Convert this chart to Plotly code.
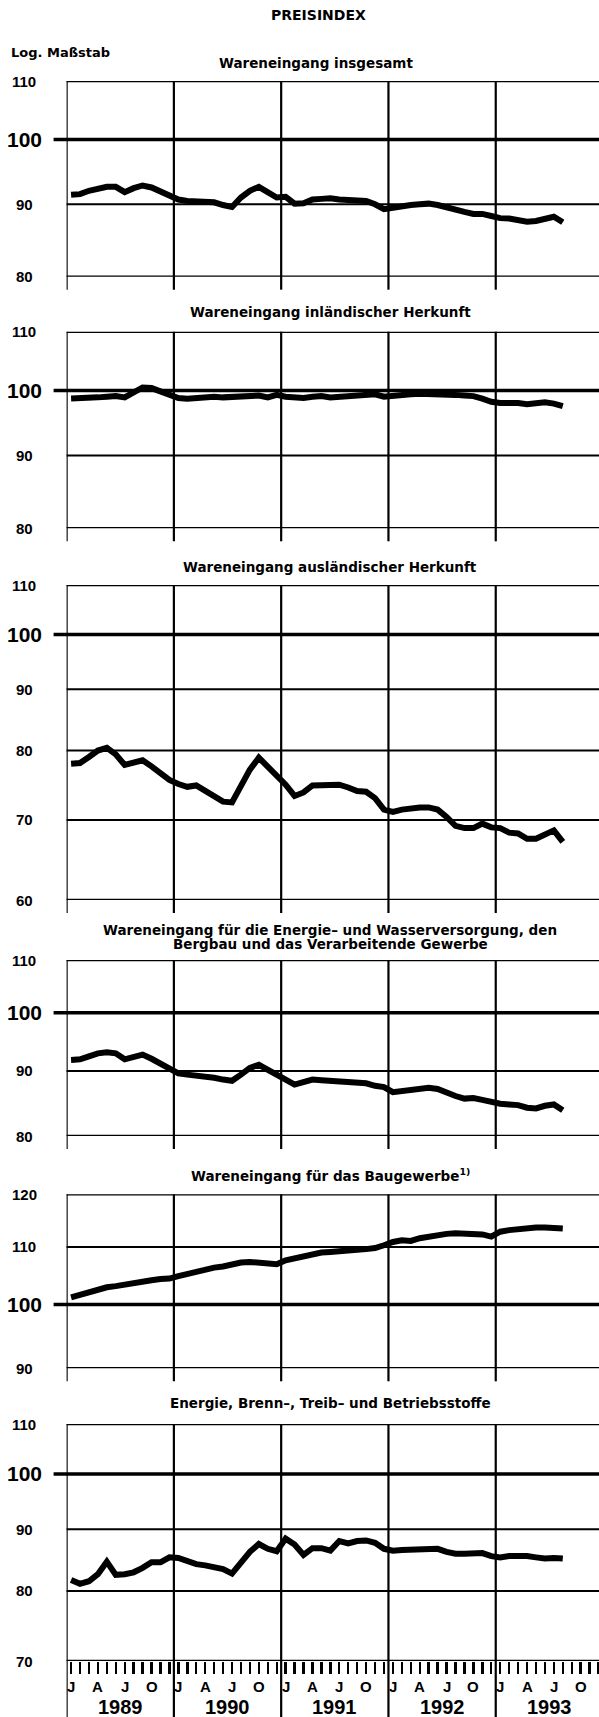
import math
import plotly.graph_objects as go

W, H = 599, 1717

# ---------------- data (monthly, Jan 1989 - Aug 1993) ----------------
jahre = ["1989", "1990", "1991", "1992", "1993"]
monatsbuchstaben = ["J", "A", "J", "O"]

insgesamt = [91.4, 91.5, 92.0, 92.4, 92.6, 92.6, 91.8, 92.4, 92.8, 92.5, 91.9, 91.2,
             90.7, 90.5, 90.5, 90.4, 90.3, 89.9, 89.6, 91.0, 92.0, 92.6, 91.7, 91.0,
             91.1, 90.1, 90.15, 90.7, 90.8, 90.9, 90.7, 90.7, 90.6, 90.5, 90.0, 89.3,
             89.5, 89.8, 89.9, 90.0, 90.1, 89.9, 89.5, 89.2, 88.9, 88.6, 88.6, 88.3,
             88.0, 87.95, 87.8, 87.5, 87.6, 87.8, 88.2, 87.4]

inlaendisch = [98.7, 98.7, 98.8, 98.9, 99.0, 99.1, 98.9, 99.8, 100.5, 100.4, 99.9, 99.3,
               98.8, 98.7, 98.8, 99.0, 99.0, 98.9, 99.0, 99.2, 99.3, 99.2, 98.9, 99.3,
               99.0, 98.8, 98.8, 99.0, 99.1, 98.9, 99.0, 99.1, 99.0, 99.1, 99.4, 99.0,
               99.2, 99.3, 99.4, 99.5, 99.5, 99.5, 99.4, 99.3, 99.2, 99.1, 98.7, 98.2,
               98.0, 98.1, 98.0, 97.8, 97.9, 98.1, 97.9, 97.5]

auslaendisch = [78.0, 78.1, 79.0, 80.0, 80.4, 79.4, 77.8, 78.2, 78.5, 77.6, 76.6, 75.6,
                75.0, 74.6, 74.8, 74.0, 73.2, 72.5, 72.4, 74.6, 77.1, 78.9, 77.6, 76.3,
                74.9, 73.3, 73.8, 74.8, 74.9, 74.9, 74.9, 74.5, 74.0, 73.9, 73.0, 71.4,
                71.1, 71.4, 71.6, 71.7, 71.7, 71.4, 70.4, 69.2, 68.9, 68.9, 69.5, 69.0,
                68.9, 68.3, 68.2, 67.5, 67.5, 68.0, 68.6, 67.1]

energie_wasser = [91.8, 91.9, 92.4, 92.9, 93.1, 92.9, 91.9, 92.4, 92.7, 92.0, 91.2, 90.3,
                  89.6, 89.4, 89.3, 89.1, 88.9, 88.6, 88.4, 89.4, 90.5, 91.0, 90.1, 89.4,
                  88.6, 87.8, 88.3, 88.6, 88.5, 88.4, 88.3, 88.1, 88.0, 88.0, 87.6, 87.4,
                  86.6, 86.8, 87.1, 87.3, 87.3, 87.1, 86.5, 86.0, 85.6, 85.7, 85.4, 85.0,
                  84.8, 84.7, 84.6, 84.2, 84.1, 84.5, 84.7, 83.8]

baugewerbe = [101.2, 101.6, 102.0, 102.6, 102.9, 103.1, 103.4, 103.6, 103.8, 104.1, 104.3, 104.4,
              104.8, 105.2, 105.5, 105.9, 106.3, 106.5, 106.9, 107.2, 107.3, 107.2, 107.1, 106.9,
              107.6, 108.0, 108.3, 108.7, 109.0, 109.1, 109.3, 109.4, 109.5, 109.6, 109.8, 110.3,
              110.9, 111.2, 111.1, 111.6, 111.9, 112.2, 112.4, 112.5, 112.5, 112.4, 112.3, 111.9,
              112.8, 113.1, 113.3, 113.5, 113.6, 113.6, 113.6, 113.4]

brennstoffe = [81.7, 81.1, 81.5, 82.6, 84.6, 82.5, 82.6, 82.9, 83.6, 84.5, 84.5, 85.3,
               85.2, 84.6, 84.2, 84.0, 83.8, 83.4, 82.7, 84.5, 86.2, 87.5, 86.7, 86.3,
               88.4, 87.4, 85.7, 86.8, 86.8, 86.4, 88.0, 87.6, 88.0, 88.1, 87.7, 86.7,
               86.4, 86.5, 86.5, 86.5, 86.6, 86.7, 86.2, 85.9, 85.9, 86.0, 86.0, 85.5,
               85.3, 85.5, 85.6, 85.5, 85.3, 85.1, 85.2, 85.1]

titel = [
    ["Wareneingang insgesamt"],
    ["Wareneingang inländischer Herkunft"],
    ["Wareneingang ausländischer Herkunft"],
    ["Wareneingang für die Energie– und Wasserversorgung, den",
     "Bergbau und das Verarbeitende Gewerbe"],
    ["Wareneingang für das Baugewerbe<sup>1)</sup>"],
    ["Energie, Brenn–, Treib– und Betriebsstoffe"],
]
reihen = [insgesamt, inlaendisch, auslaendisch, energie_wasser, baugewerbe, brennstoffe]
achsenwerte = [[110, 100, 90, 80], [110, 100, 90, 80], [110, 100, 90, 80, 70, 60],
               [110, 100, 90, 80], [120, 110, 100, 90], [110, 100, 90, 80, 70]]

# ---------------- layout geometry (pixels) ----------------
geom = [  # top px, bottom px, title y px list, title x px
    (81.0, 276.7, [62.7], 316),
    (331.7, 528.3, [311.7], 330),
    (585.0, 900.0, [567.3], 330),
    (960.0, 1136.0, [930.0, 944.0], 330),
    (1194.3, 1368.3, [1175.0], 330),
    (1424.0, 1661.0, [1403.0], 330),
]
XL_PX = 66.6
XL = XL_PX / W
XMAX = 59.55
PLOT_W = W - XL_PX
NUMFONT = "Liberation Sans, Arial, Helvetica, sans-serif"
TXTFONT = "DejaVu Sans, Verdana, sans-serif"

fig = go.Figure()
layout = dict(width=W, height=H, margin=dict(l=0, r=0, t=0, b=0),
              paper_bgcolor="white", plot_bgcolor="white", showlegend=False,
              font=dict(family=NUMFONT, color="black"))
shapes = []
annotations = []


def py(px):
    return 1 - px / H


for k, (reihe, werte, tit, (top, bot, tys, tx)) in enumerate(
        zip(reihen, achsenwerte, titel, geom), start=1):
    sfx = "" if k == 1 else str(k)
    xa, ya = "x" + sfx, "y" + sfx
    vmax, vmin = max(werte), min(werte)
    xaxis = dict(domain=[XL, 1], range=[0, XMAX], anchor=ya, showgrid=False,
                 zeroline=False, showticklabels=False, showline=False, ticks="",
                 fixedrange=True)
    if k == 6:
        xaxis.update(ticks="outside", tickvals=[m + 0.5 for m in range(12 * len(jahre))],
                     ticklen=12, tickwidth=2.4, tickcolor="black")
    layout["xaxis" + sfx] = xaxis
    layout["yaxis" + sfx] = dict(domain=[py(bot), py(top)], type="log",
                                 range=[math.log10(vmin), math.log10(vmax)], anchor=xa,
                                 showgrid=False, zeroline=False, showticklabels=False,
                                 showline=False, ticks="", fixedrange=True)
    ph = bot - top
    # horizontal grid lines
    for v in werte:
        if v == 100:
            shapes.append(dict(type="line", xref=xa + " domain", x0=-13 / PLOT_W, x1=1,
                               yref=ya, y0=v, y1=v, line=dict(color="black", width=3.6),
                               layer="below"))
        else:
            shapes.append(dict(type="line", xref=xa + " domain", x0=0, x1=1,
                               yref=ya, y0=v, y1=v,
                               line=dict(color="black", width=2.4 if v in (vmax, vmin) else 2),
                               layer="below"))
        annotations.append(dict(xref="paper", x=24 / W, yref=ya, y=math.log10(v),
                                text=f"<b>{v}</b>", showarrow=False,
                                xanchor="center", yanchor="middle",
                                font=dict(size=21 if v == 100 else 15, family=NUMFONT)))
    # vertical year lines
    ext = (H - bot) if k == 6 else 13
    for j in range(len(jahre)):
        shapes.append(dict(type="line", xref=xa, x0=12 * j, x1=12 * j,
                           yref=ya + " domain", y0=-ext / ph, y1=1,
                           line=dict(color="black", width=2.2), layer="below"))
    # titles
    for t, tyy in zip(tit, tys):
        annotations.append(dict(xref="paper", x=tx / W, yref="paper", y=py(tyy),
                                text=f"<b>{t}</b>", showarrow=False,
                                xanchor="center", yanchor="middle",
                                font=dict(size=13.5, family=TXTFONT)))
    # data line
    fig.add_trace(go.Scatter(x=[i + 0.5 for i in range(len(reihe))], y=reihe,
                             mode="lines", xaxis=xa, yaxis=ya, hoverinfo="skip",
                             line=dict(color="black", width=6)))

# header texts
annotations.append(dict(xref="paper", x=318 / W, yref="paper", y=py(15),
                        text="<b>PREISINDEX</b>", showarrow=False,
                        xanchor="center", yanchor="middle", font=dict(size=14, family=TXTFONT)))
annotations.append(dict(xref="paper", x=9 / W, yref="paper", y=py(53),
                        text="<b>Log. Maßstab</b>", showarrow=False,
                        xanchor="left", yanchor="middle", font=dict(size=13, family=TXTFONT)))

# month letters and years below the last panel
for j, jahr in enumerate(jahre):
    for idx, buchst in zip([0, 3, 6, 9], monatsbuchstaben):
        annotations.append(dict(xref="x6", x=12 * j + idx + 0.5, yref="paper", y=py(1686.5),
                                text=f"<b>{buchst}</b>", showarrow=False,
                                xanchor="center", yanchor="middle",
                                font=dict(size=15, family=NUMFONT)))
    annotations.append(dict(xref="x6", x=12 * j + 6, yref="paper", y=py(1706.5),
                            text=f"<b>{jahr}</b>", showarrow=False,
                            xanchor="center", yanchor="middle",
                            font=dict(size=20, family=NUMFONT)))

layout["shapes"] = shapes
layout["annotations"] = annotations
fig.update_layout(**layout)
fig.write_html("out.html",
               config={"displayModeBar": False, "staticPlot": True},
               post_script="document.body.style.margin='0';"
                           "document.body.style.padding='0';"
                           "document.body.style.overflow='hidden';")
